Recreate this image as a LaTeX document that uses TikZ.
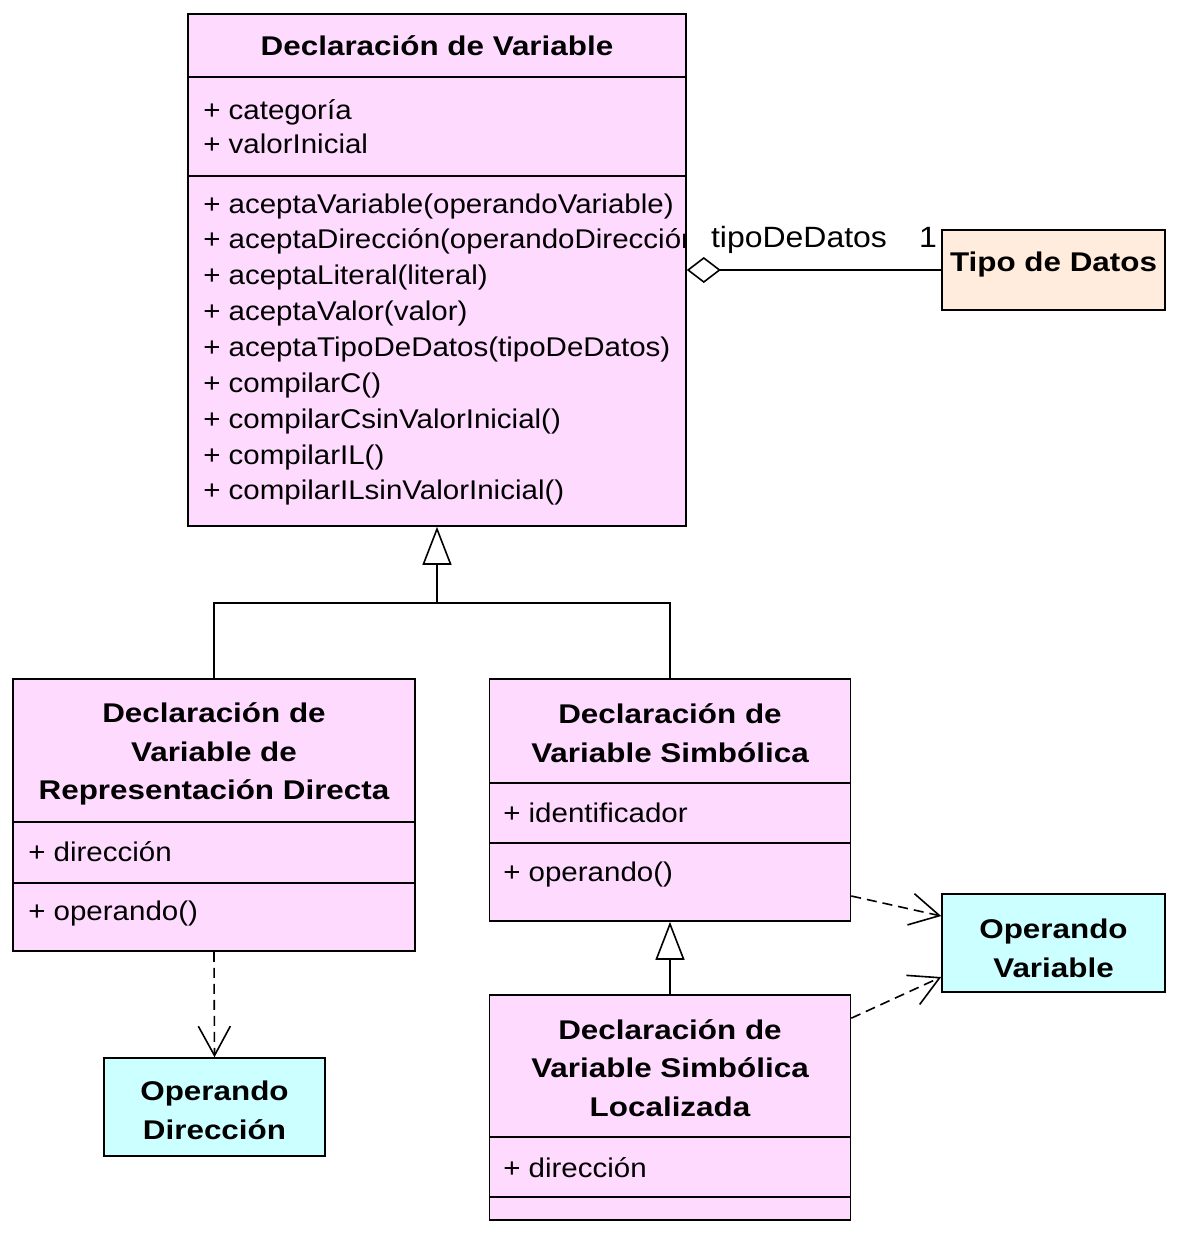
\documentclass[tikz,border=0pt]{standalone}
\usepackage{fontspec}
\setmainfont{Liberation Sans}[FakeStretch=1.09, BoldFeatures={FakeStretch=1.16}]
\usepackage{tikz}
\usetikzlibrary{arrows.meta}

\definecolor{clsPink}{RGB}{255,218,255}
\definecolor{clsCyan}{RGB}{204,255,255}
\definecolor{clsPeach}{RGB}{255,236,220}

\begin{document}
\begin{tikzpicture}[x=0.75pt,y=0.75pt,yscale=-1,xscale=1,
  classbox/.style={draw=black,line width=1.2pt,inner sep=0pt},
  clsname/.style={font=\fontsize{20.3pt}{29pt}\selectfont\bfseries,align=center,inner sep=0.75pt},
  member/.style={anchor=west,font=\fontsize{20.3pt}{26.9pt}\selectfont,align=left,inner sep=0.75pt},
  sepline/.style={line width=1.2pt},
  genline/.style={line width=1.2pt,-{Triangle[open,length=28.5pt,width=21.75pt,line width=1.2pt]}},
  depline/.style={line width=1.2pt,dash pattern=on 7.5pt off 4.5pt,-{Straight Barb[length=22pt,width=24pt,line width=1.2pt]}}]
\useasboundingbox (0,0) rectangle (1178,1233);

%Shape: Rectangle [id:declVar]
\node[classbox,fill=clsPink,minimum width=373.5pt,minimum height=384pt] (declVar) at (437,270) {};
%Straight Lines
\draw[sepline] (188,77) -- (686,77) ;
\draw[sepline] (188,176) -- (686,176) ;

%Shape: Rectangle [id:tipoDatos]
\node[classbox,fill=clsPeach,minimum width=167.25pt,minimum height=60pt] (tipoDatos) at (1053.5,270) {};

%Shape: Rectangle [id:dirRep]
\node[classbox,fill=clsPink,minimum width=301.5pt,minimum height=204pt] (dirRep) at (214,815) {};
\draw[sepline] (13,822) -- (415,822) ;
\draw[sepline] (13,883) -- (415,883) ;

%Shape: Rectangle [id:simb]
\node[classbox,fill=clsPink,minimum width=270.75pt,minimum height=181.5pt] (simb) at (670,800) {};
\draw[sepline] (489.5,783) -- (850.5,783) ;
\draw[sepline] (489.5,843) -- (850.5,843) ;

%Shape: Rectangle [id:local]
\node[classbox,fill=clsPink,minimum width=270.75pt,minimum height=168.75pt] (local) at (670,1107.5) {};
\draw[sepline] (489.5,1137) -- (850.5,1137) ;
\draw[sepline] (489.5,1197) -- (850.5,1197) ;

%Shape: Rectangle [id:opVar]
\node[classbox,fill=clsCyan,minimum width=167.25pt,minimum height=73.5pt] (opVar) at (1053.5,943) {};
%Shape: Rectangle [id:opDir]
\node[classbox,fill=clsCyan,minimum width=165.75pt,minimum height=73.5pt] (opDir) at (214.5,1107) {};

% Text Node
\node[clsname] (declVarName) at (437,46) {Declaración de Variable};
\node[member,font=\fontsize{20.3pt}{25.5pt}\selectfont] (declVarAttr) at (202,127) {+ categoría\\+ valorInicial};
\begin{scope}
\clip (188,176) rectangle (685,526);
\node[member] (declVarOps) at (202,349.5) {+ aceptaVariable(operandoVariable)\\+ aceptaDirección(operandoDirección)\\+ aceptaLiteral(literal)\\+ aceptaValor(valor)\\+ aceptaTipoDeDatos(tipoDeDatos)\\+ compilarC()\\+ compilarCsinValorInicial()\\+ compilarIL()\\+ compilarILsinValorInicial()};
\end{scope}

% Text Node
\node[clsname] (tipoDatosName) at (1053.5,264) {Tipo de Datos};
\node[clsname] (dirRepName) at (214,754) {Declaración de\\Variable de\\Representación Directa};
\node[member] (dirRepAttr) at (27,852) {+ dirección};
\node[member] (dirRepOps) at (27,913) {+ operando()};
\node[clsname] (simbName) at (670,733) {Declaración de\\Variable Simbólica};
\node[member] (simbAttr) at (502,813) {+ identificador};
\node[member] (simbOps) at (502,874) {+ operando()};
\node[clsname] (localName) at (670,1068) {Declaración de\\Variable Simbólica\\Localizada};
\node[member] (localAttr) at (502,1168) {+ dirección};
\node[clsname] (opVarName) at (1053.5,948) {Operando\\Variable};
\node[clsname] (opDirName) at (214.5,1110.5) {Operando\\Dirección};

%Aggregation
\draw[line width=1.2pt,{Diamond[open,length=25.5pt,width=19.5pt,line width=1.2pt]}-] (declVar.east) -- (tipoDatos.west) ;
\node[font=\fontsize{22pt}{26pt}\selectfont,inner sep=0.75pt] (roleLbl) at (799,240) {tipoDeDatos};
\node[font=\fontsize{22pt}{26pt}\selectfont,inner sep=0.75pt] (multLbl) at (928,237) {1};

%Generalization
\coordinate (genJoin) at (437,603);
\draw[line width=1.2pt] (dirRep.north) |- (genJoin) -| (simb.north) ;
\draw[genline] (genJoin) -- (declVar.south) ;
\draw[genline] (local.north) -- (simb.south) ;

%Dependencies
\draw[depline] (dirRep.south) -- (opDir.north) ;
\draw[depline] ([yshift=72pt]simb.east) -- ([yshift=-20.25pt]opVar.west) ;
\draw[depline] ([yshift=-67pt]local.east) -- ([yshift=25.5pt]opVar.west) ;

\end{tikzpicture}
\end{document}
